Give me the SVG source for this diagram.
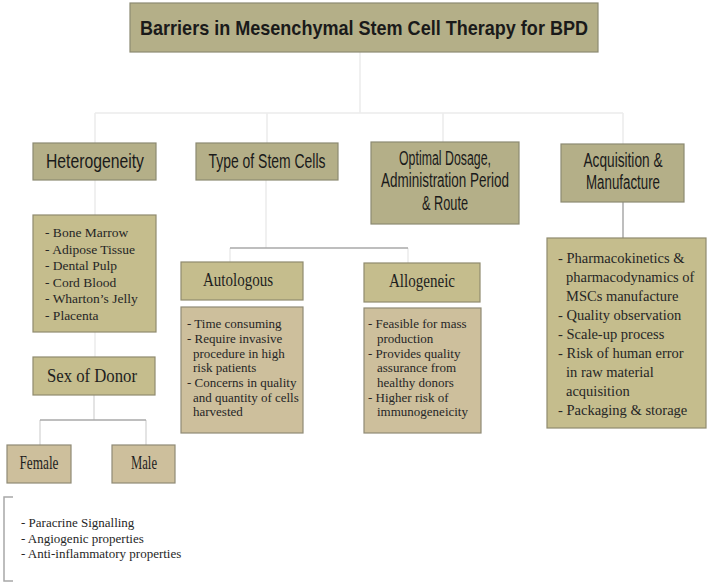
<svg xmlns="http://www.w3.org/2000/svg" width="709" height="584" viewBox="0 0 709 584">
<style>
.hdr{fill:#b4af88;stroke:#8c8a72;stroke-width:1.2}
.olv{fill:#c5bd8d;stroke:#8f8a6e;stroke-width:1.2}
.tan{fill:#cdbf9c;stroke:#8f8a76;stroke-width:1.2}
.st{font-family:"Liberation Sans",Arial,sans-serif;font-size:20px;fill:#1a1a1a;text-anchor:middle}
.tt{font-family:"Liberation Sans",Arial,sans-serif;font-size:21px;font-weight:bold;fill:#1a1a1a;text-anchor:middle}
.sh{font-family:"Liberation Serif","Times New Roman",serif;font-size:19px;fill:#1e1e1e;text-anchor:middle}
.ls{font-family:"Liberation Serif","Times New Roman",serif;font-size:13.5px;fill:#262626}
.lm{font-family:"Liberation Serif","Times New Roman",serif;font-size:13px;fill:#262626}
.la{font-family:"Liberation Serif","Times New Roman",serif;font-size:14.5px;fill:#262626}
.faint{stroke:#ececec;stroke-width:1.5;fill:none}
.mid{stroke:#dcdcdc;stroke-width:1.5;fill:none}
.dark{stroke:#a8a8a8;stroke-width:1.5;fill:none}
</style>
<rect width="709" height="584" fill="#ffffff"/>
<g id="connectors">
<path class="faint" d="M360 52V113M95 113H623M95 113V143M267 113V143M443 113V142M623 113V144"/>
<path class="faint" d="M95 180V215M95 332V357"/>
<path class="faint" d="M266 180V248M230 248V262M408 248V263"/>
<path class="dark" d="M230 248H408"/>
<path class="dark" d="M623 202V238"/>
<path class="mid" d="M94 395V420M40 420V445M146 420V445"/>
<path class="dark" d="M40 420H146"/>
<path class="dark" d="M13 497H4V581H13"/>
</g>
<g id="title">
<rect class="hdr" x="130" y="3" width="468" height="49"/>
<text class="tt" x="364" y="35" textLength="448" lengthAdjust="spacingAndGlyphs">Barriers in Mesenchymal Stem Cell Therapy for BPD</text>
</g>
<g id="heterogeneity">
<rect class="hdr" x="33" y="143" width="123" height="37"/>
<text class="st" x="95" y="168" textLength="98" lengthAdjust="spacingAndGlyphs">Heterogeneity</text>
</g>
<g id="type-of-stem-cells">
<rect class="hdr" x="196" y="143" width="142" height="37"/>
<text class="st" x="267" y="168" textLength="117" lengthAdjust="spacingAndGlyphs">Type of Stem Cells</text>
</g>
<g id="optimal-dosage">
<rect class="hdr" x="371" y="142" width="148" height="82"/>
<text class="st" x="445" y="165" textLength="92" lengthAdjust="spacingAndGlyphs">Optimal Dosage,</text>
<text class="st" x="445" y="187" textLength="128" lengthAdjust="spacingAndGlyphs">Administration Period</text>
<text class="st" x="445" y="210" textLength="46" lengthAdjust="spacingAndGlyphs">&amp; Route</text>
</g>
<g id="acquisition">
<rect class="hdr" x="561" y="144" width="123" height="58"/>
<text class="st" x="623" y="167" textLength="79" lengthAdjust="spacingAndGlyphs">Acquisition &amp;</text>
<text class="st" x="623" y="189" textLength="74" lengthAdjust="spacingAndGlyphs">Manufacture</text>
</g>
<g id="sources">
<rect class="olv" x="33" y="215" width="123" height="117"/>
<text class="ls" x="45" y="237">- Bone Marrow</text>
<text class="ls" x="45" y="253.5">- Adipose Tissue</text>
<text class="ls" x="45" y="270">- Dental Pulp</text>
<text class="ls" x="45" y="286.5">- Cord Blood</text>
<text class="ls" x="45" y="303">- Wharton’s Jelly</text>
<text class="ls" x="45" y="319.5">- Placenta</text>
</g>
<g id="sex-of-donor">
<rect class="olv" x="33" y="357" width="122" height="38"/>
<text class="sh" x="92" y="382" textLength="90" lengthAdjust="spacingAndGlyphs">Sex of Donor</text>
</g>
<g id="female">
<rect class="tan" x="7" y="445" width="64" height="38"/>
<text class="sh" x="39" y="469" textLength="39" lengthAdjust="spacingAndGlyphs">Female</text>
</g>
<g id="male">
<rect class="tan" x="112" y="445" width="63" height="38"/>
<text class="sh" x="144" y="469" textLength="26" lengthAdjust="spacingAndGlyphs">Male</text>
</g>
<g id="autologous">
<rect class="olv" x="181" y="262" width="122" height="38"/>
<text class="sh" x="238" y="286" textLength="70" lengthAdjust="spacingAndGlyphs">Autologous</text>
</g>
<g id="autologous-list">
<rect class="tan" x="181" y="307" width="122" height="126"/>
<text class="lm" x="187" y="328">- Time consuming</text>
<text class="lm" x="187" y="343">- Require invasive</text>
<text class="lm" x="193" y="357.5">procedure in high</text>
<text class="lm" x="193" y="372">risk patients</text>
<text class="lm" x="187" y="387">- Concerns in quality</text>
<text class="lm" x="193" y="401.5">and quantity of cells</text>
<text class="lm" x="193" y="416">harvested</text>
</g>
<g id="allogeneic">
<rect class="olv" x="364" y="263" width="116" height="39"/>
<text class="sh" x="422" y="287" textLength="66" lengthAdjust="spacingAndGlyphs">Allogeneic</text>
</g>
<g id="allogeneic-list">
<rect class="tan" x="364" y="308" width="117" height="125"/>
<text class="lm" x="368" y="328">- Feasible for mass</text>
<text class="lm" x="377" y="343">production</text>
<text class="lm" x="368" y="357.5">- Provides quality</text>
<text class="lm" x="377" y="372">assurance from</text>
<text class="lm" x="377" y="387">healthy donors</text>
<text class="lm" x="368" y="401.5">- Higher risk of</text>
<text class="lm" x="377" y="416">immunogeneicity</text>
</g>
<g id="acquisition-list">
<rect class="olv" x="547" y="238" width="159" height="190"/>
<text class="la" x="558" y="263">- Pharmacokinetics &amp;</text>
<text class="la" x="566" y="282">pharmacodynamics of</text>
<text class="la" x="566" y="300.5">MSCs manufacture</text>
<text class="la" x="558" y="320">- Quality observation</text>
<text class="la" x="558" y="339">- Scale-up process</text>
<text class="la" x="558" y="358">- Risk of human error</text>
<text class="la" x="566" y="377">in raw material</text>
<text class="la" x="566" y="396">acquisition</text>
<text class="la" x="558" y="415">- Packaging &amp; storage</text>
</g>
<g id="properties">
<text class="lm" x="21" y="527">- Paracrine Signalling</text>
<text class="lm" x="21" y="543">- Angiogenic properties</text>
<text class="lm" x="21" y="558">- Anti-inflammatory properties</text>
</g>
</svg>
